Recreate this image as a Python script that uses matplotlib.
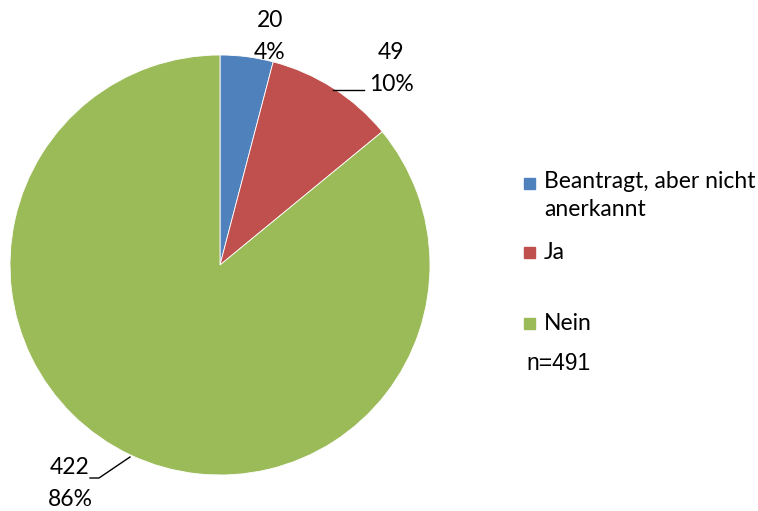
import matplotlib.pyplot as plt

categories = ["Beantragt, aber nicht\nanerkannt", "Ja", "Nein"]
counts = [20, 49, 422]
percents = ["4%", "10%", "86%"]
colors = ["#4F81BD", "#C0504D", "#9BBB59"]
n_total = 491

plt.rcParams['font.family'] = ['Lato', 'DejaVu Sans']

H = 511
fig = plt.figure(figsize=(7.58, 5.11), dpi=100)
ax = fig.add_axes([0, 0, 1, 1])

cx, cy, r = 220, H - 265, 210
ax.pie(counts, colors=colors, startangle=90, counterclock=False,
       center=(cx, cy), radius=r, frame=True,
       wedgeprops=dict(edgecolor="white", linewidth=0.6))
ax.set_xlim(0, 758)
ax.set_ylim(0, H)
ax.axis("off")

fs = 16.5
# data labels (pixel positions measured from the top)
label_pos = [(270, 20), (391, 52), (70, 468)]
for (x, y), c, p in zip(label_pos, counts, percents):
    ax.text(x, H - y, str(c), fontsize=fs, ha="center", va="center")
    ax.text(x, H - y - 32, p, fontsize=fs, ha="center", va="center")

# leader lines
ax.plot([333, 364], [H - 90, H - 90], color="black", lw=1)
ax.plot([90, 99, 130], [H - 478, H - 478, H - 457], color="black", lw=1)

# legend
leg_y = [183, 252, 323]
for y, col, lab in zip(leg_y, colors, categories):
    ax.add_patch(plt.Rectangle((524, H - y - 5.5), 11, 11, color=col))
    ax.text(544, H - y + 12 if "\n" in lab else H - y, lab, fontsize=16.5,
            ha="left", va="top" if "\n" in lab else "center", linespacing=1.4)

ax.text(526, H - 363, f"n={n_total}", fontsize=16.5, ha="left", va="center",
        family="Liberation Sans")

fig.savefig("out.png", dpi=100)
